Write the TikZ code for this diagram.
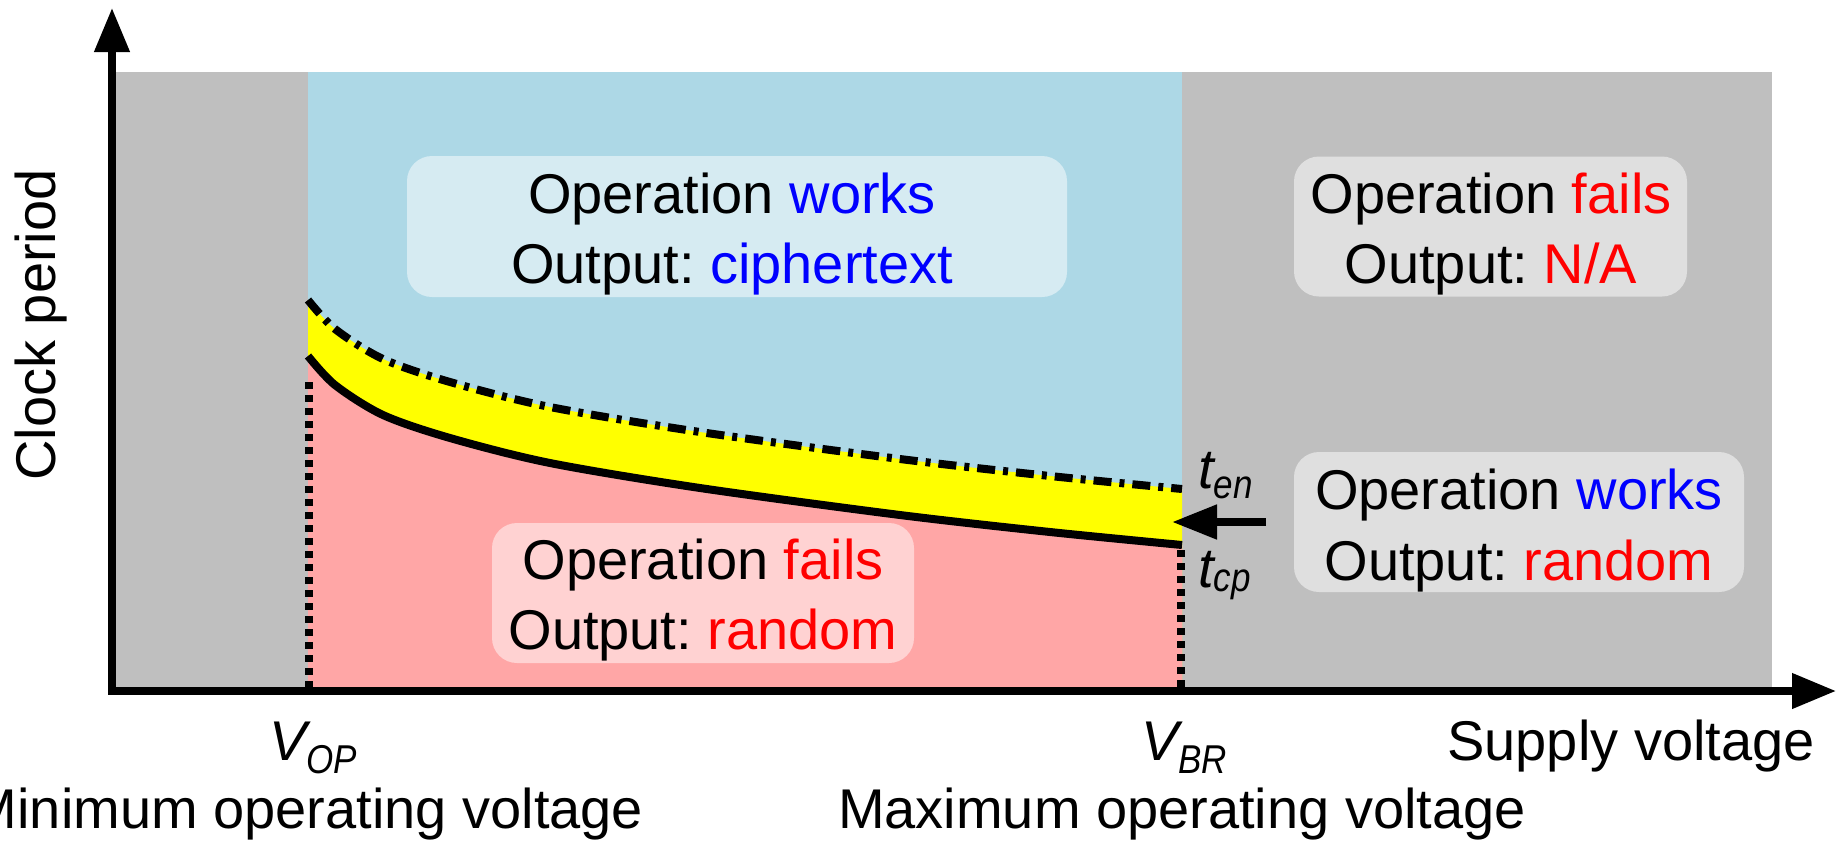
\documentclass[tikz,border=0pt]{standalone}
\usepackage{fontspec}
\usepackage{graphicx}
\setmainfont{Liberation Sans}
\usetikzlibrary{arrows.meta}
\definecolor{grayreg}{RGB}{191,191,191}
\definecolor{bluereg}{RGB}{173,216,230}
\definecolor{yelreg}{RGB}{255,255,0}
\definecolor{pinkreg}{RGB}{255,166,166}
\definecolor{txtblue}{RGB}{0,0,255}
\definecolor{txtred}{RGB}{255,0,0}
\newcommand{\subtxt}[2][-12pt]{\raisebox{#1}{\scalebox{1}[1.15]{\fontsize{35}{35}\selectfont\itshape #2}}}
\tikzset{bigtip/.tip={Triangle[length=44pt,width=34pt]}}
\frenchspacing
\begin{document}
\begin{tikzpicture}[x=1pt,y=-1pt,
  infobox/.style={fill=white, fill opacity=0.5, rounded corners=25pt, inner sep=0pt, draw=none},
  bigtext/.style={font=\fontsize{56}{67}\selectfont, inner sep=0pt, anchor=base},
  curveline/.style={line width=8pt},
  dashdotline/.style={line width=8pt, dash pattern=on 18pt off 8pt on 5pt off 8pt},
  dotline/.style={line width=7.5pt, dash pattern=on 7pt off 6pt},
  axisline/.style={line width=7.5pt, line join=miter}
]
\useasboundingbox (0,0) rectangle (1837,844);

% regions
\fill[grayreg] (113,72) rectangle (1772,689);
\fill[bluereg] (308,72) rectangle (1182,689);
\fill[yelreg] plot[smooth] coordinates {(308,300) (335,329) (383,359) (450,382) (550,407) (700,432) (900,459) (1050,476) (1182,489)} -- (1182,689) -- (308,689) -- cycle;
\fill[pinkreg] plot[smooth] coordinates {(308,356) (335,385) (383,415) (450,438) (550,463) (700,488) (900,515) (1050,532) (1182,545)} -- (1182,689) -- (308,689) -- cycle;

% curves
\draw[dashdotline] plot[smooth] coordinates {(308,300) (335,329) (383,359) (450,382) (550,407) (700,432) (900,459) (1050,476) (1182,489)};
\draw[curveline] plot[smooth] coordinates {(308,356) (335,385) (383,415) (450,438) (550,463) (700,488) (900,515) (1050,532) (1182,545)};

% dotted verticals
\draw[dotline] (309,382) -- (309,688);
\draw[dotline] (1181,550) -- (1181,688);

% info boxes
\node[infobox, minimum width=660pt, minimum height=141pt] (b1) at (737,226.5) {};
\node[infobox, minimum width=393pt, minimum height=140pt] (b2) at (1490.5,226.5) {};
\node[infobox, minimum width=450pt, minimum height=140pt] (b3) at (1519,522) {};
\node[infobox, minimum width=422pt, minimum height=140pt] (b4) at (703,593) {};

\node[bigtext] (b1a) at (732,213) {Operation \textcolor{txtblue}{works}};
\node[bigtext] (b1b) at (732,283) {Output: \textcolor{txtblue}{ciphertext}};
\node[bigtext] (b2a) at (1491,213) {Operation \textcolor{txtred}{fails}};
\node[bigtext] (b2b) at (1491,283) {Output: \textcolor{txtred}{N/A}};
\node[bigtext] (b3a) at (1519,509) {Operation \textcolor{txtblue}{works}};
\node[bigtext] (b3b) at (1519,580) {Output: \textcolor{txtred}{random}};
\node[bigtext] (b4a) at (703,579) {Operation \textcolor{txtred}{fails}};
\node[bigtext] (b4b) at (703,649) {Output: \textcolor{txtred}{random}};

% axes
\coordinate (ytip) at (112,8);
\coordinate (orig) at (112,691);
\coordinate (xtip) at (1836,691);
\draw[axisline, bigtip-bigtip] (ytip) -- (orig) -- (xtip);

% arrow to band
\coordinate (arrS) at (1266,522);
\coordinate (arrE) at (1172,522);
\draw[line width=8pt, -{Triangle[length=45pt,width=33pt]}] (arrS) -- (arrE);

% labels
\node[bigtext, rotate=90] (ylab) at (55,325) {Clock period};
\node[bigtext] (xlab) at (1631,760) {Supply voltage};
\node[bigtext] (vop) at (313,760) {\itshape V\subtxt[-13pt]{OP}};
\node[bigtext] (vbr) at (1184,760) {\itshape V\subtxt[-13pt]{BR}};
\node[bigtext] (minv) at (307,828) {Minimum operating voltage};
\node[bigtext] (maxv) at (1182,828) {Maximum operating voltage};
\node[bigtext, anchor=base west] (ten) at (1198,488) {\itshape t\subtxt[-10pt]{en}};
\node[bigtext, anchor=base west] (tcp) at (1198,587) {\itshape t\subtxt[-4pt]{cp}};
\end{tikzpicture}
\end{document}
